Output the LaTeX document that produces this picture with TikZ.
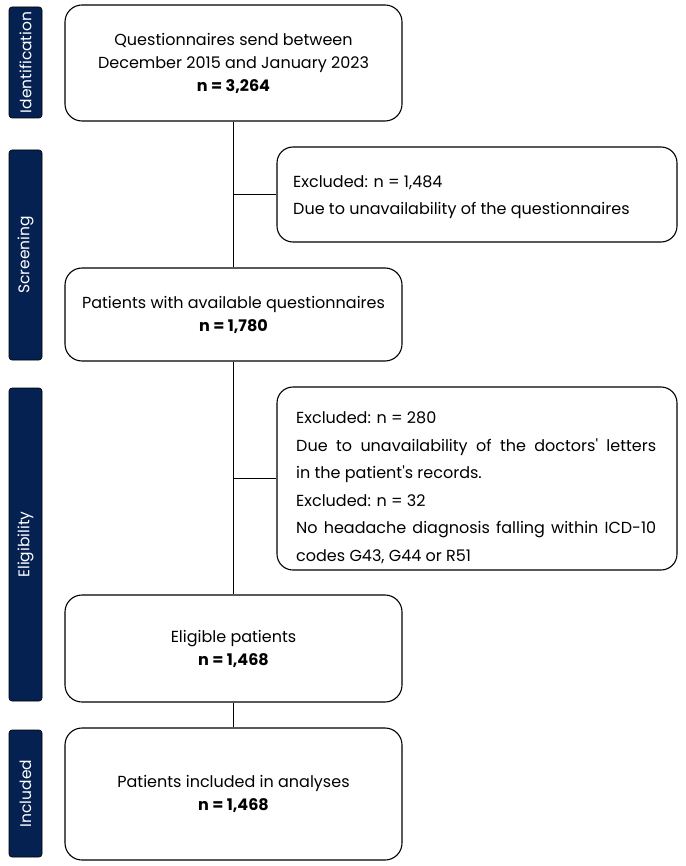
\documentclass[tikz,border=0pt]{standalone}
\usepackage{fontspec}
\setmainfont{Poppins}
\definecolor{navy}{RGB}{5,33,82}
\tikzset{
  mainbox/.style={draw=black, line width=1.1pt, rounded corners=17pt, align=center,
    inner sep=0pt, minimum width=337pt, font=\fontsize{16}{23}\selectfont},
  exbox/.style={draw=black, line width=1.1pt, rounded corners=16pt, inner sep=0pt,
    minimum width=400pt},
  extext/.style={anchor=west, inner sep=0pt, align=left,
    font=\fontsize{16}{27.5}\selectfont},
  sidebar/.style={fill=navy, draw=black, line width=0.6pt, rounded corners=3pt, rotate=90,
    minimum height=33pt, inner sep=0pt, text=white, font=\fontsize{15.5}{17}\selectfont},
  conn/.style={draw=black, line width=1.1pt}
}
\begin{document}
\begin{tikzpicture}[x=1pt,y=-1pt]
\useasboundingbox[fill=white] (0,0) rectangle (685,866);
% side bars
\node[sidebar, minimum width=111pt] (s1) at (25.5,62.5) {Identification};
\node[sidebar, minimum width=210pt] (s2) at (25.5,255) {Screening};
\node[sidebar, minimum width=313pt] (s3) at (25.5,544.5) {Eligibility};
\node[sidebar, minimum width=127pt] (s4) at (25.5,793.5) {Included};
% main boxes
\node[mainbox, minimum height=116pt] (b1) at (233.5,63) {Questionnaires send between\\December 2015 and January 2023\\\textbf{n = 3,264}};
\node[mainbox, minimum height=93pt] (b2) at (233.5,314.5) {Patients with available questionnaires\\\textbf{n = 1,780}};
\node[mainbox, minimum height=107pt] (b3) at (233.5,648.5) {Eligible patients\\\textbf{n = 1,468}};
\node[mainbox, minimum height=132pt] (b4) at (233.5,794) {Patients included in analyses\\\textbf{n = 1,468}};
% excluded boxes
\node[exbox, minimum height=95pt] (e1) at (477,194.5) {};
\node[extext] (e1t) at (293,197) {Excluded: n = 1,484\\Due to unavailability of the questionnaires};
\node[exbox, minimum height=183pt] (e2) at (477,478.5) {};
\node[extext] (e2t) at (296,487.5) {Excluded: n = 280\\\makebox[360pt][s]{Due to unavailability of the doctors\textquotesingle{} letters}\\in the patient\textquotesingle{}s records.\\Excluded: n = 32\\\makebox[360pt][s]{No headache diagnosis falling within ICD-10}\\codes G43, G44 or R51};
% connectors
\draw[conn] (b1.south) -- (b2.north);
\draw[conn] (b2.south) -- (b3.north);
\draw[conn] (b3.south) -- (b4.north);
\draw[conn] (e1.west -| b1.south) -- (e1.west);
\draw[conn] (e2.west -| b1.south) -- (e2.west);
\end{tikzpicture}
\end{document}
